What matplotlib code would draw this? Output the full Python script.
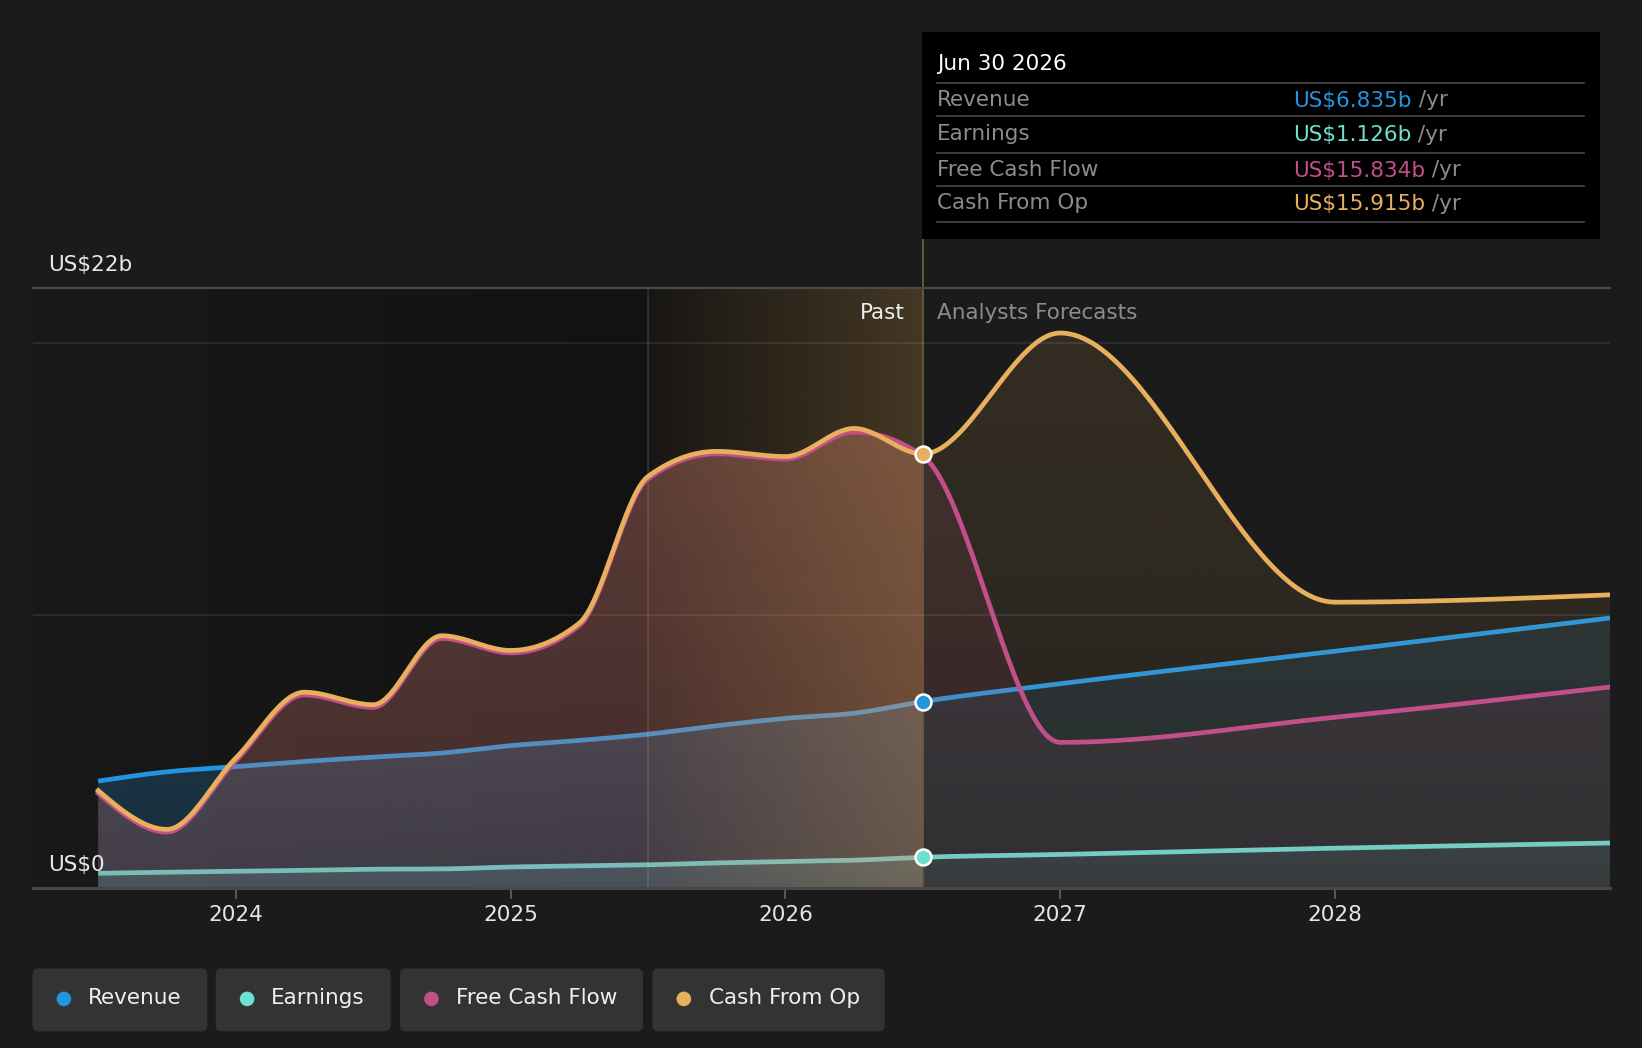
import numpy as np
import matplotlib
matplotlib.use("Agg")
import matplotlib.pyplot as plt
from matplotlib.patches import Polygon, FancyBboxPatch, Rectangle, Circle
from matplotlib.colors import to_rgb

# ---------------- data (US$ billions) ----------------
past_x = [2023.5, 2023.75, 2024.0, 2024.25, 2024.5, 2024.75, 2025.0,
          2025.25, 2025.5, 2025.75, 2026.0, 2026.25, 2026.5]
fc_x = [2026.5, 2027.0, 2028.0, 2029.0]

revenue_past = [3.92, 4.26, 4.45, 4.64, 4.80, 4.95, 5.22, 5.41, 5.64, 5.95, 6.22, 6.41, 6.835]
revenue_fc = [6.835, 7.49, 8.68, 9.90]
earnings_past = [0.54, 0.58, 0.61, 0.65, 0.69, 0.70, 0.77, 0.81, 0.85, 0.92, 0.97, 1.02, 1.126]
earnings_fc = [1.126, 1.23, 1.46, 1.65]
fcf_past = [3.47, 2.05, 4.66, 7.08, 6.62, 9.15, 8.62, 9.62, 15.00, 15.92, 15.73, 16.72, 15.834]
fcf_fc = [15.834, 5.34, 6.26, 7.37]
cfo_past = [3.57, 2.15, 4.76, 7.18, 6.72, 9.25, 8.71, 9.71, 15.09, 16.01, 15.82, 16.85, 15.915]
cfo_fc = [15.915, 20.35, 10.48, 10.75]

year_ticks = [2024, 2025, 2026, 2027, 2028]
series_names = ["Revenue", "Earnings", "Free Cash Flow", "Cash From Op"]
tooltip_values = ["US$6.835b", "US$1.126b", "US$15.834b", "US$15.915b"]
tooltip_date = "Jun 30 2026"

C_REV = "#2394df"
C_EARN = "#6ee0cf"
C_FCF = "#c24f8a"
C_CFO = "#e8b05c"
colors = [C_REV, C_EARN, C_FCF, C_CFO]

BG = "#1b1b1b"
FS = 15.5
W, H = 1642, 1048
SPLIT = past_x[-1]


def monotone(x, y, n=60):
    """d3 curveMonotoneX style rendering of a series."""
    x = np.asarray(x, float)
    y = np.asarray(y, float)
    h = np.diff(x)
    s = np.diff(y) / h
    m = len(x)
    t = np.zeros(m)
    sgn = lambda v: -1.0 if v < 0 else 1.0
    for i in range(1, m - 1):
        s0, s1, h0, h1 = s[i - 1], s[i], h[i - 1], h[i]
        p = (s0 * h1 + s1 * h0) / (h0 + h1)
        t[i] = (sgn(s0) + sgn(s1)) * min(abs(s0), abs(s1), 0.5 * abs(p))
    if m > 2:
        t[0] = (3 * s[0] - t[1]) / 2
        t[-1] = (3 * s[-1] - t[-2]) / 2
    else:
        t[0] = t[-1] = s[0]
    xs, ys = [], []
    for i in range(m - 1):
        u = np.linspace(0, 1, n, endpoint=(i == m - 2))
        h00 = 2 * u**3 - 3 * u**2 + 1
        h10 = u**3 - 2 * u**2 + u
        h01 = -2 * u**3 + 3 * u**2
        h11 = u**3 - u**2
        xs.append(x[i] + u * h[i])
        ys.append(h00 * y[i] + h10 * h[i] * t[i] + h01 * y[i + 1] + h11 * h[i] * t[i + 1])
    return np.concatenate(xs), np.concatenate(ys)


def split_curve(px, py, fx, fy):
    xs, ys = monotone(list(px) + list(fx[1:]), list(py) + list(fy[1:]))
    a = xs <= SPLIT + 1e-9
    b = xs >= SPLIT - 1e-9
    return (xs[a], ys[a]), (xs[b], ys[b])


fig = plt.figure(figsize=(W / 100, H / 100), dpi=100, facecolor=BG)
ax = fig.add_axes([32.5 / W, 1 - 888 / H, (1609.5 - 32.5) / W, (888 - 288) / H])
ax.set_facecolor(BG)
XMIN, XMAX = 2023.261, 2028.998
for sp in ax.spines.values():
    sp.set_visible(False)


def grad_fill(xs, ys, color, a_top, a_bot, z):
    ymax = float(np.max(ys))
    rgb = to_rgb(color)
    n = 256
    img = np.zeros((n, 1, 4))
    img[..., :3] = rgb
    img[:, 0, 3] = np.linspace(a_bot, a_top, n)
    im = ax.imshow(img, extent=[xs[0], xs[-1], 0, ymax], origin="lower",
                   aspect="auto", interpolation="bilinear", zorder=z)
    verts = np.column_stack([np.r_[xs, xs[::-1]], np.r_[ys, np.zeros_like(ys)]])
    poly = Polygon(verts, closed=True, fc="none", ec="none", transform=ax.transData)
    ax.add_patch(poly)
    im.set_clip_path(poly)


# past dark background
n = 400
bgimg = np.zeros((1, n, 4))
xx = np.linspace(XMIN, SPLIT, n)
f = np.clip((xx - XMIN) / (2025.5 - XMIN), 0, 1)
lev = (25 - 7 * f) / 255.0
bgimg[0, :, 0] = lev
bgimg[0, :, 1] = lev
bgimg[0, :, 2] = lev
bgimg[0, :, 3] = 1
ax.imshow(bgimg, extent=[XMIN, SPLIT, 0, 22], origin="lower", aspect="auto",
          interpolation="bilinear", zorder=0.5)

# smoothed series (continuous through the past/forecast boundary)
rp, rf = split_curve(past_x, revenue_past, fc_x, revenue_fc)
ep, ef = split_curve(past_x, earnings_past, fc_x, earnings_fc)
fp, ff = split_curve(past_x, fcf_past, fc_x, fcf_fc)
cp, cf = split_curve(past_x, cfo_past, fc_x, cfo_fc)

LW = 3.4
# earnings
grad_fill(*ep, C_EARN, 0.22, 0.16, 2.0)
grad_fill(*ef, C_EARN, 0.12, 0.08, 2.0)
ax.plot(*ep, color=C_EARN, lw=LW, zorder=2.1, solid_capstyle="butt")
ax.plot(*ef, color=C_EARN, lw=LW, zorder=2.1, solid_capstyle="butt")
# revenue
grad_fill(*rp, C_REV, 0.24, 0.18, 2.2)
grad_fill(*rf, C_REV, 0.12, 0.08, 2.2)
ax.plot(*rp, color=C_REV, lw=LW, zorder=2.3, solid_capstyle="butt")
ax.plot(*rf, color=C_REV, lw=LW, zorder=2.3, solid_capstyle="butt")
# fcf / cfo fills
grad_fill(*fp, C_FCF, 0.24, 0.14, 2.4)
grad_fill(*ff, C_FCF, 0.12, 0.07, 2.4)
grad_fill(*cp, C_CFO, 0.20, 0.10, 2.5)
grad_fill(*cf, C_CFO, 0.12, 0.06, 2.5)

# highlighted band 2025.5 - 2026.5
band = np.zeros((1, n, 4))
band[0, :, :3] = to_rgb(C_CFO)
band[0, :, 3] = np.linspace(0.03, 0.24, n)
ax.imshow(band, extent=[2025.5, SPLIT, 0, 22], origin="lower", aspect="auto",
          interpolation="bilinear", zorder=2.6)
ax.plot([2025.5, 2025.5], [0, 22], color=(0.9, 0.75, 0.5, 0.18), lw=1.2, zorder=2.62)
ax.plot([SPLIT, SPLIT], [0, 23.8], color="#6b5a3c", lw=1.3, zorder=2.62, clip_on=False)

# gridlines
for gy in [10, 20]:
    ax.axhline(gy, color=(1, 1, 1, 0.08), lw=1.4, zorder=2.65)
ax.axhline(22, color="#4a4a4a", lw=1.6, zorder=5, clip_on=False)
ax.axhline(0, color="#474747", lw=2.2, zorder=5, clip_on=False)

# fcf / cfo lines
ax.plot(*fp, color=C_FCF, lw=LW, zorder=3.0)
ax.plot(*ff, color=C_FCF, lw=LW, zorder=3.0)
ax.plot(*cp, color=C_CFO, lw=LW, zorder=3.1)
ax.plot(*cf, color=C_CFO, lw=LW, zorder=3.1)

# markers at the past/forecast boundary
for val, col in [(revenue_past[-1], C_REV), (earnings_past[-1], C_EARN), (cfo_past[-1], C_CFO)]:
    ax.plot([SPLIT], [val], marker="o", ms=11.5, mfc=col, mec="white", mew=1.8,
            zorder=6, clip_on=False)

ax.set_xlim(XMIN, XMAX)
ax.set_ylim(0, 22)
ax.set_yticks([])
ax.set_xticks(year_ticks)
ax.set_xticklabels([str(y) for y in year_ticks])
ax.tick_params(axis="x", colors="#555555", length=8, width=1.5, pad=4,
               labelcolor="#e6e6e6", labelsize=FS)

# axis value labels
fig.text(48.2 / W, 1 - 265 / H, "US$22b", color="#e8e8e8", fontsize=FS, va="center", ha="left")
fig.text(48.2 / W, 1 - 865 / H, "US$0", color="#e8e8e8", fontsize=FS, va="center", ha="left", zorder=10)
fig.text(904.7 / W, 1 - 313 / H, "Past", color="#f0f0f0", fontsize=FS, va="center", ha="right")
fig.text(937 / W, 1 - 313 / H, "Analysts Forecasts", color="#8c8c8c", fontsize=FS, va="center", ha="left")

# tooltip
fig.add_artist(Rectangle((921.5 / W, 1 - 238.7 / H), (1600 - 921.5) / W, (238.7 - 32.5) / H,
                         transform=fig.transFigure, fc="black", ec="none", zorder=20))
fig.text(937 / W, 1 - 64 / H, tooltip_date, color="white", fontsize=FS, va="center", zorder=21)
for sy in [82.7, 116.2, 152.9, 186.4, 222.0]:
    fig.add_artist(plt.Line2D([937 / W, 1584 / W], [1 - sy / H, 1 - sy / H], transform=fig.transFigure,
                              color="#4a4a4a", lw=1.2, zorder=21))
row_y = [99.5, 134.0, 169.5, 203.0]
renderer = fig.canvas.get_renderer()
for name, val, col, ry in zip(series_names, tooltip_values, colors, row_y):
    fig.text(937 / W, 1 - ry / H, name, color="#8c8c8c", fontsize=FS, va="center", zorder=21)
    t = fig.text(1293 / W, 1 - (ry + 7) / H, val, color=col, fontsize=FS, va="baseline", zorder=21)
    bb = t.get_window_extent(renderer)
    fig.text(bb.x1 / W, 1 - (ry + 7) / H, " /yr", color="#8c8c8c", fontsize=FS, va="baseline", zorder=21)

# legend
boxes = [(32.5, 207.3), (215.7, 390.6), (400.0, 643.0), (652.3, 884.8)]
dots = [63.9, 247.1, 431.4, 683.8]
texts_x = [88.0, 271.2, 455.5, 708.9]
ly0 = 16.7
lh = 62.8
for (x0, x1), dx, tx, name, col in zip(boxes, dots, texts_x, series_names, colors):
    fig.add_artist(FancyBboxPatch((x0 / 100, ly0 / 100), (x1 - x0) / 100, lh / 100,
                                  boxstyle="round,pad=0,rounding_size=0.06",
                                  transform=fig.dpi_scale_trans, fc="#333333", ec="none"))
    fig.add_artist(Circle((dx / 100, (ly0 + lh / 2 + 1) / 100), 0.073, transform=fig.dpi_scale_trans,
                          fc=col, ec="none"))
    fig.text(tx / W, (ly0 + lh / 2 + 2) / H, name, color="#f0f0f0", fontsize=FS, va="center", ha="left")

fig.savefig("out.png", dpi=100, facecolor=BG)
